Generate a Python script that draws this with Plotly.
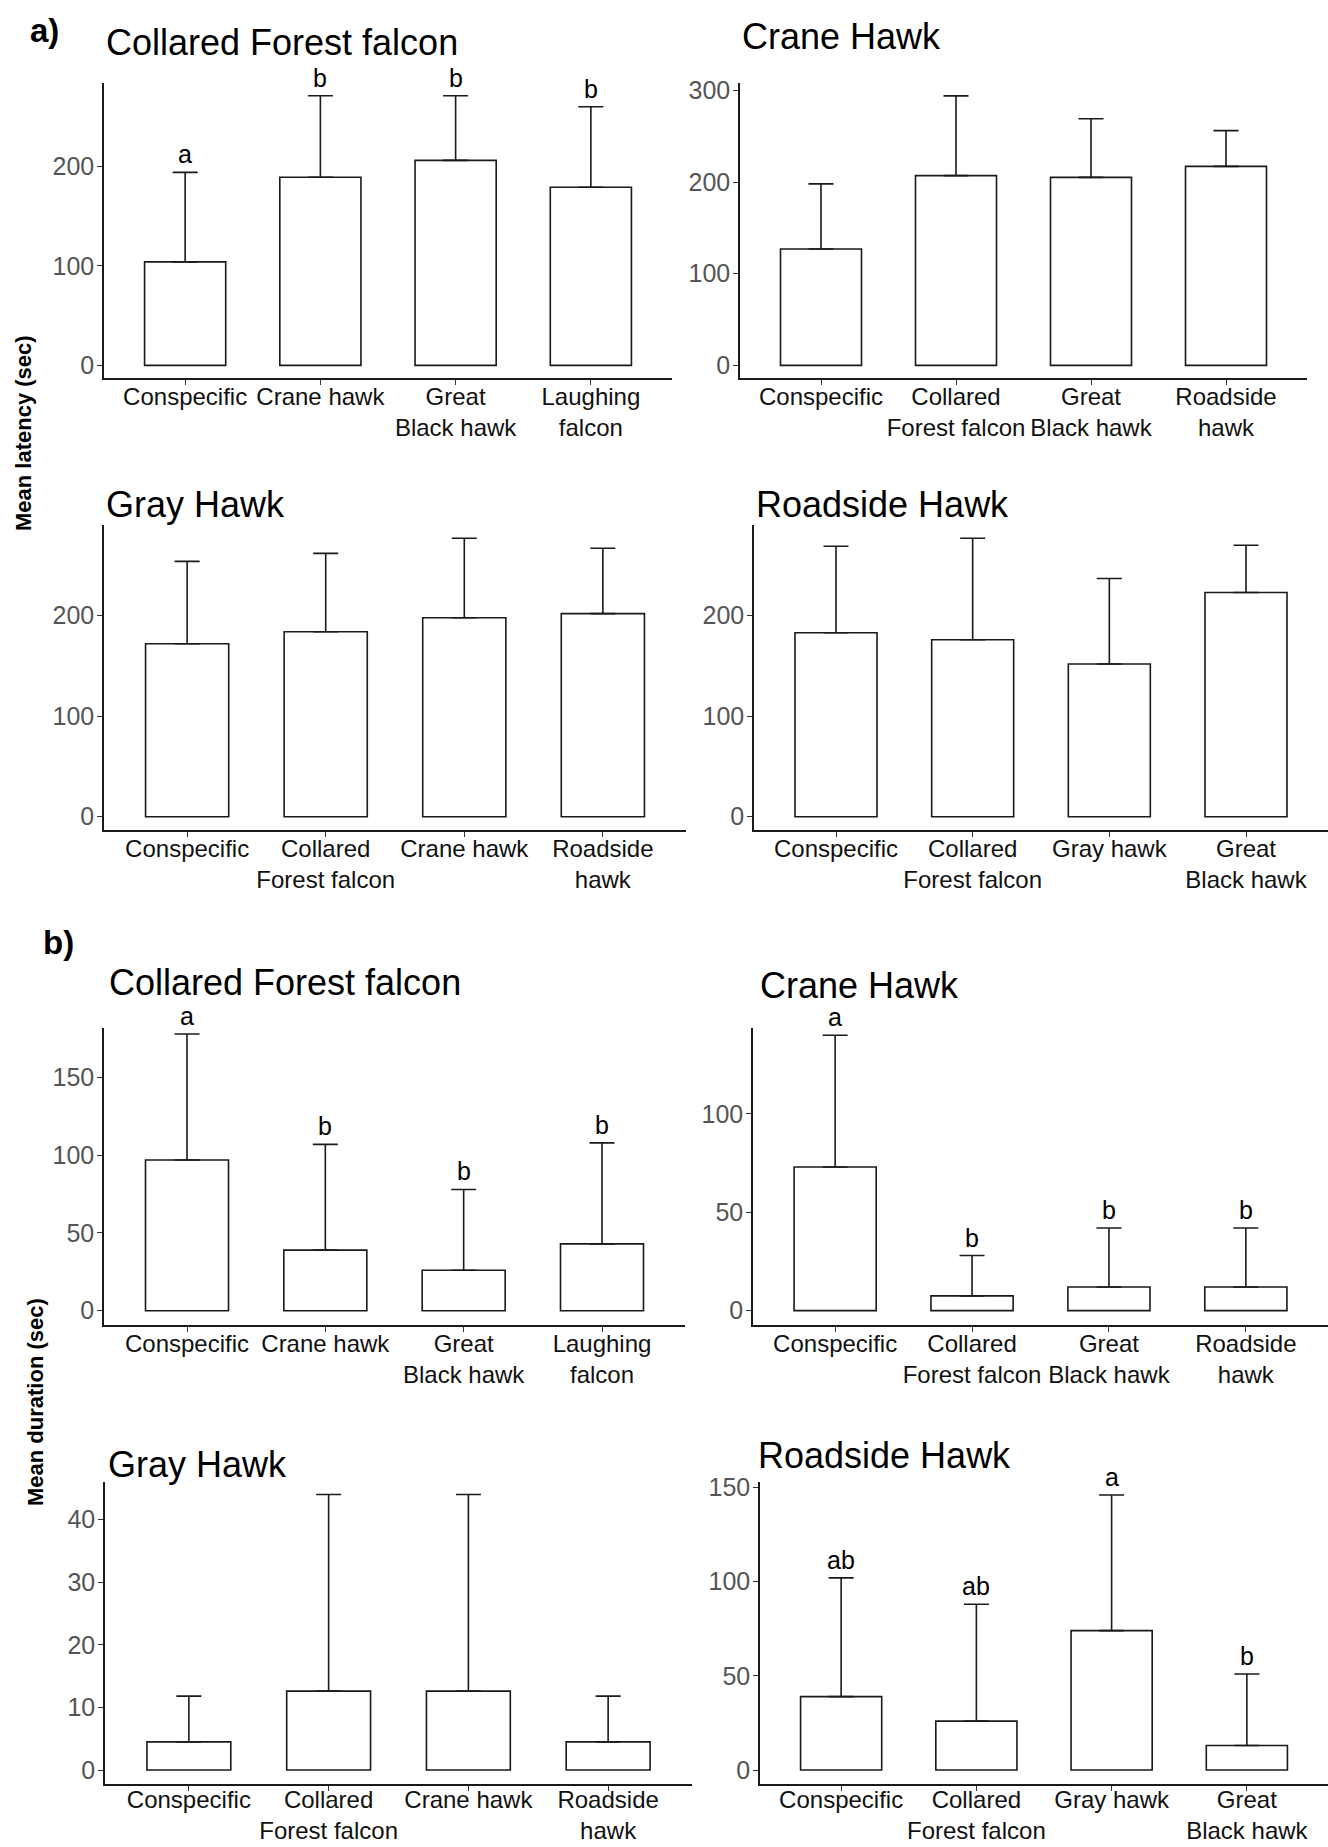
import plotly.graph_objects as go

W, H = 1328, 1847

# ---------------- data ----------------
CATS_CFF = ["Conspecific", "Crane hawk", "Great<br>Black hawk", "Laughing<br>falcon"]
CATS_CH = ["Conspecific", "Collared<br>Forest falcon", "Great<br>Black hawk", "Roadside<br>hawk"]
CATS_GH = ["Conspecific", "Collared<br>Forest falcon", "Crane hawk", "Roadside<br>hawk"]
CATS_RH = ["Conspecific", "Collared<br>Forest falcon", "Gray hawk", "Great<br>Black hawk"]

TITLES = ["Collared Forest falcon", "Crane Hawk", "Gray Hawk", "Roadside Hawk"]

# a) latency: mean and upper error-bar end
LAT_CFF_MEAN = [104, 189, 206, 179]
LAT_CFF_UP = [194, 271, 271, 260]
LAT_CFF_LET = ["a", "b", "b", "b"]

LAT_CH_MEAN = [127, 207, 205, 217]
LAT_CH_UP = [198, 294, 269, 256]

LAT_GH_MEAN = [172, 184, 198, 202]
LAT_GH_UP = [254, 262, 277, 267]

LAT_RH_MEAN = [183, 176, 152, 223]
LAT_RH_UP = [269, 277, 237, 270]

# b) duration
DUR_CFF_MEAN = [97, 39, 26, 43]
DUR_CFF_UP = [178, 107, 78, 108]
DUR_CFF_LET = ["a", "b", "b", "b"]

DUR_CH_MEAN = [73, 7.5, 12, 12]
DUR_CH_UP = [140, 28, 42, 42]
DUR_CH_LET = ["a", "b", "b", "b"]

DUR_GH_MEAN = [4.5, 12.6, 12.6, 4.5]
DUR_GH_UP = [11.8, 44, 44, 11.8]

DUR_RH_MEAN = [39, 26, 74, 13]
DUR_RH_UP = [102, 88, 146, 51]
DUR_RH_LET = ["ab", "ab", "a", "b"]

TICKS_A1 = [0, 100, 200]
TICKS_A2 = [0, 100, 200, 300]
TICKS_A3 = [0, 100, 200]
TICKS_A4 = [0, 100, 200]
TICKS_B1 = [0, 50, 100, 150]
TICKS_B2 = [0, 50, 100]
TICKS_B3 = [0, 10, 20, 30, 40]
TICKS_B4 = [0, 50, 100, 150]

# ---------------- layout helpers (pixel geometry) ----------------
FONT = "Liberation Sans, Arial, Helvetica, sans-serif"


def px_x(x):
    return x / W


def px_y(y):
    return 1 - y / H


panels = [
    (CATS_CFF, LAT_CFF_MEAN, LAT_CFF_UP, LAT_CFF_LET, TICKS_A1, [-12.7, 283.8], (104, 672), (83, 378), TITLES[0], (104, 42), -9),
    (CATS_CH, LAT_CH_MEAN, LAT_CH_UP, None, TICKS_A2, [-13.8, 308], (740, 1307), (83, 378), TITLES[1], (740, 37), -9),
    (CATS_GH, LAT_GH_MEAN, LAT_GH_UP, None, TICKS_A3, [-13.2, 290.2], (104, 686), (525, 830), TITLES[2], (104, 504), -9),
    (CATS_RH, LAT_RH_MEAN, LAT_RH_UP, None, TICKS_A4, [-13.2, 290.2], (754, 1328), (525, 830), TITLES[3], (754, 504), -9),
    (CATS_CFF, DUR_CFF_MEAN, DUR_CFF_UP, DUR_CFF_LET, TICKS_B1, [-9.2, 181.9], (104, 685), (1028, 1325), TITLES[0], (107, 982), -9),
    (CATS_CH, DUR_CH_MEAN, DUR_CH_UP, DUR_CH_LET, TICKS_B2, [-7.3, 143.7], (753, 1328), (1028, 1325), TITLES[1], (758, 985), -9),
    (CATS_GH, DUR_GH_MEAN, DUR_GH_UP, None, TICKS_B3, [-2.23, 46.0], (105, 692), (1482, 1784), TITLES[2], (106, 1464), -12),
    (CATS_RH, DUR_RH_MEAN, DUR_RH_UP, DUR_RH_LET, TICKS_B4, [-7.4, 152.9], (760, 1328), (1482, 1784), TITLES[3], (756, 1455), -12),
]

fig = go.Figure()
annotations = []
layout_axes = {}

for i, (cats, mean, up, letters, ticks, yr, xd, yd, title, tpos, stand) in enumerate(panels):
    n = i + 1
    xa = "x" if n == 1 else f"x{n}"
    ya = "y" if n == 1 else f"y{n}"
    err = [u - m for u, m in zip(up, mean)]
    fig.add_trace(go.Bar(
        x=cats, y=mean, xaxis=xa, yaxis=ya, width=0.6,
        marker=dict(color="white", line=dict(color="#1a1a1a", width=1.6)),
        error_y=dict(type="data", array=err, arrayminus=[0] * len(err), symmetric=False,
                     color="#1a1a1a", thickness=1.6, width=12.5),
        showlegend=False, hoverinfo="skip",
    ))
    xkey = "xaxis" if n == 1 else f"xaxis{n}"
    ykey = "yaxis" if n == 1 else f"yaxis{n}"
    layout_axes[xkey] = dict(
        domain=[px_x(xd[0]), px_x(xd[1])], anchor=ya,
        type="category", categoryorder="array", categoryarray=cats,
        range=[-0.6, 3.6], showline=True, linecolor="#1a1a1a", linewidth=1.5,
        ticks="outside", ticklen=5, tickwidth=1.2, tickcolor="#333333",
        tickangle=0, automargin=False, ticklabelstandoff=stand,
        showgrid=False, zeroline=False, fixedrange=True,
        tickfont=dict(family=FONT, size=24, color="#111111"),
    )
    layout_axes[ykey] = dict(
        domain=[px_y(yd[1]), px_y(yd[0])], anchor=xa,
        range=yr, tickvals=ticks, showline=True, linecolor="#1a1a1a", linewidth=1.5,
        ticks="outside", ticklen=5, tickwidth=1.2, tickcolor="#333333",
        automargin=False, ticklabelstandoff=-2,
        showgrid=False, zeroline=False, fixedrange=True,
        tickfont=dict(family=FONT, size=25, color="#555555"),
    )
    annotations.append(dict(
        text=title, x=px_x(tpos[0]), y=px_y(tpos[1]), xref="paper", yref="paper",
        xanchor="left", yanchor="middle", showarrow=False,
        font=dict(family=FONT, size=36, color="black"),
    ))
    if letters:
        for c, u, lt in zip(cats, up, letters):
            annotations.append(dict(
                text=lt, x=c, y=u, xref=xa, yref=ya, xanchor="center", yanchor="bottom",
                yshift=2, showarrow=False,
                font=dict(family=FONT, size=25, color="black"),
            ))

annotations += [
    dict(text="<b>a)</b>", x=px_x(44), y=px_y(30), xref="paper", yref="paper",
         xanchor="center", yanchor="middle", showarrow=False,
         font=dict(family=FONT, size=33, color="black")),
    dict(text="<b>b)</b>", x=px_x(58), y=px_y(942), xref="paper", yref="paper",
         xanchor="center", yanchor="middle", showarrow=False,
         font=dict(family=FONT, size=33, color="black")),
    dict(text="<b>Mean latency (sec)</b>", x=px_x(23), y=px_y(433), xref="paper", yref="paper",
         xanchor="center", yanchor="middle", textangle=-90, showarrow=False,
         font=dict(family=FONT, size=22, color="black")),
    dict(text="<b>Mean duration (sec)</b>", x=px_x(35), y=px_y(1402), xref="paper", yref="paper",
         xanchor="center", yanchor="middle", textangle=-90, showarrow=False,
         font=dict(family=FONT, size=22, color="black")),
]

fig.update_layout(
    width=W, height=H, margin=dict(l=0, r=0, t=0, b=0),
    paper_bgcolor="white", plot_bgcolor="white",
    annotations=annotations, bargap=0.4, showlegend=False,
    font=dict(family=FONT),
    **layout_axes,
)

fig.write_html("out.html", config={"displayModeBar": False},
               post_script="document.body.style.margin='0';")
